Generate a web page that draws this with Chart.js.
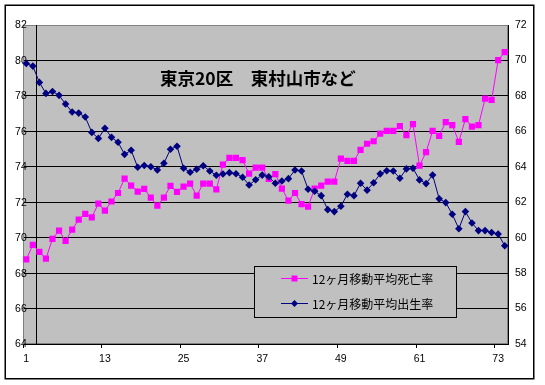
<!DOCTYPE html>
<html lang="ja">
<head>
<meta charset="utf-8">
<title>東京20区　東村山市など</title>
<script src="https://cdn.jsdelivr.net/npm/chart.js@4.4.1/dist/chart.umd.min.js"></script>
<style>
  html, body { margin: 0; padding: 0; background: #fff; }
  #wrap { position: relative; width: 545px; height: 385px; }
</style>
</head>
<body>
<div id="wrap"><canvas id="chart" width="545" height="385"></canvas></div>
<script>
// ---- data ----
const months = [
  1, 2, 3, 4, 5, 6, 7, 8, 9, 10, 11, 12, 13, 14, 15, 16, 17, 18, 19, 20,
  21, 22, 23, 24, 25, 26, 27, 28, 29, 30, 31, 32, 33, 34, 35, 36, 37, 38, 39, 40,
  41, 42, 43, 44, 45, 46, 47, 48, 49, 50, 51, 52, 53, 54, 55, 56, 57, 58, 59, 60,
  61, 62, 63, 64, 65, 66, 67, 68, 69, 70, 71, 72, 73, 74
];
const xTickLabels = ["1", "13", "25", "37", "49", "61", "73"];

// 12ヶ月移動平均死亡率 (left axis)
const deathRate = [
  68.77, 69.59, 69.20, 68.82, 69.93, 70.40, 69.82, 70.46, 71.02, 71.34,
  71.15, 71.92, 71.53, 72.04, 72.52, 73.33, 72.94, 72.60, 72.75, 72.26,
  71.81, 72.26, 72.92, 72.58, 72.88, 73.05, 72.37, 73.05, 73.05, 72.73,
  74.12, 74.50, 74.50, 74.38, 73.61, 73.95, 73.95, 73.31, 73.59, 72.77,
  72.09, 72.52, 71.89, 71.75, 72.77, 72.94, 73.16, 73.16, 74.46, 74.33,
  74.33, 74.96, 75.30, 75.44, 75.87, 76.02, 76.02, 76.30, 75.79, 76.41,
  74.06, 74.83, 76.02, 75.75, 76.52, 76.35, 75.41, 76.69, 76.26, 76.35,
  77.84, 77.78, 80.02, 80.47
];

// 12ヶ月移動平均出生率 (right axis)
const birthRate = [
  69.83, 69.68, 68.76, 68.14, 68.25, 68.03, 67.54, 67.09, 67.03, 66.81,
  65.94, 65.60, 66.17, 65.66, 65.38, 64.70, 64.93, 63.97, 64.07, 64.00,
  63.82, 64.20, 64.99, 65.16, 63.92, 63.69, 63.86, 64.06, 63.76, 63.52,
  63.59, 63.67, 63.61, 63.41, 62.97, 63.27, 63.53, 63.44, 63.07, 63.20,
  63.33, 63.82, 63.76, 62.73, 62.62, 62.37, 61.58, 61.47, 61.77, 62.45,
  62.37, 63.07, 62.68, 63.10, 63.60, 63.78, 63.76, 63.35, 63.88, 63.92,
  63.26, 63.05, 63.54, 62.19, 61.98, 61.32, 60.50, 61.47, 60.83, 60.40,
  60.40, 60.29, 60.21, 59.54
];

const seriesNames = ["12ヶ月移動平均死亡率", "12ヶ月移動平均出生率"];
const chartTitle = "東京20区　東村山市など";

const PINK = "#ff00ff";
const NAVY = "#000080";
const PLOT_BG = "#c0c0c0";
const tickFont = { family: "'Liberation Sans', Arial, sans-serif", size: 10.5 };

/* =========================
   EXCEL-STYLE DECORATION
========================== */
const excelFrame = {
  id: "excelFrame",
  beforeDraw(chart) {
    const { ctx, chartArea: a } = chart;
    ctx.save();
    ctx.fillStyle = "#fff";
    ctx.fillRect(0, 0, chart.width, chart.height);
    ctx.fillStyle = PLOT_BG;
    ctx.fillRect(a.left, a.top, a.right - a.left, a.bottom - a.top);
    ctx.strokeStyle = "#808080";
    ctx.lineWidth = 1;
    ctx.strokeRect(a.left + 0.5, a.top + 0.5, a.right - a.left - 1, a.bottom - a.top - 1);
    ctx.restore();
  },
  beforeDatasetsDraw(chart) {
    const { ctx, chartArea: a } = chart;
    ctx.save();

    // left value labels overlap the plot edge a little, as in Excel
    const ys = chart.scales.y;
    ctx.fillStyle = "#000";
    ctx.font = "10.5px 'Liberation Sans', Arial, sans-serif";
    ctx.textAlign = "right";
    ctx.textBaseline = "middle";
    ys.ticks.forEach(t => {
      ctx.fillText(String(t.value), a.left + 3.8, ys.getPixelForValue(t.value) + 0.5);
    });

    // value axis crosses between category 2 and 3
    const x = Math.round(chart.scales.x.getPixelForValue(1.5)) + 0.5;
    ctx.strokeStyle = "#000";
    ctx.lineWidth = 1;
    ctx.beginPath();
    ctx.moveTo(x, a.top);
    ctx.lineTo(x, a.bottom);
    ctx.stroke();
    ctx.restore();
  },
  afterDraw(chart) {
    const { ctx, chartArea: a } = chart;
    ctx.save();

    // title inside the plot
    ctx.fillStyle = "#000";
    ctx.font = "bold 17.5px 'Noto Sans CJK JP', sans-serif";
    ctx.textBaseline = "middle";
    ctx.textAlign = "left";
    ctx.fillText(chartTitle, a.left + 137, a.top + 53);

    // legend box
    const bx = a.left + 231, by = a.top + 241, bw = 202, bh = 51;
    ctx.fillStyle = PLOT_BG;
    ctx.fillRect(bx, by, bw, bh);
    ctx.strokeStyle = "#000";
    ctx.lineWidth = 1;
    ctx.strokeRect(bx + 0.5, by + 0.5, bw, bh);

    const items = [
      { text: seriesNames[0], color: PINK, shape: "square" },
      { text: seriesNames[1], color: NAVY, shape: "diamond" }
    ];
    items.forEach((it, i) => {
      const y = by + 12.5 + i * 25;
      ctx.strokeStyle = it.color;
      ctx.beginPath();
      ctx.moveTo(bx + 27, y);
      ctx.lineTo(bx + 54, y);
      ctx.stroke();
      ctx.fillStyle = it.color;
      const cx = bx + 40.5;
      if (it.shape === "square") {
        ctx.fillRect(cx - 3, y - 3, 6, 6);
      } else {
        ctx.beginPath();
        ctx.moveTo(cx, y - 3.5);
        ctx.lineTo(cx + 3.5, y);
        ctx.lineTo(cx, y + 3.5);
        ctx.lineTo(cx - 3.5, y);
        ctx.closePath();
        ctx.fill();
      }
      ctx.fillStyle = "#000";
      ctx.font = "12px 'Noto Sans CJK JP', sans-serif";
      ctx.fillText(it.text, bx + 58, y + 0.5);
    });

    // outer chart border
    ctx.strokeStyle = "#000";
    ctx.lineWidth = 1.5;
    ctx.strokeRect(5.25, 5.25, 528.5, 373.5);
    ctx.restore();
  }
};

/* =========================
   CHART
========================== */
const ctx = document.getElementById("chart").getContext("2d");

new Chart(ctx, {
  type: "line",
  data: {
    labels: months,
    datasets: [
      {
        label: seriesNames[0],
        data: deathRate,
        yAxisID: "y",
        order: 1,
        borderColor: PINK,
        backgroundColor: PINK,
        borderWidth: 1,
        pointStyle: "rect",
        pointRadius: 4.4,
        pointBorderWidth: 0,
        tension: 0,
        fill: false
      },
      {
        label: seriesNames[1],
        data: birthRate,
        yAxisID: "y1",
        order: 0,
        borderColor: NAVY,
        backgroundColor: NAVY,
        borderWidth: 1,
        pointStyle: "rectRot",
        pointRadius: 3.8,
        pointBorderWidth: 0,
        tension: 0,
        fill: false
      }
    ]
  },
  options: {
    responsive: false,
    animation: false,
    layout: { padding: { left: 0, right: 0, top: 25, bottom: 11 } },
    plugins: {
      legend: { display: false },
      tooltip: { enabled: false }
    },
    scales: {
      x: {
        type: "category",
        offset: true,
        afterFit: s => { s.height = 30; },
        grid: {
          offset: true,
          drawOnChartArea: false,
          drawTicks: true,
          tickLength: 4,
          tickColor: c => xTickLabels.includes(String(months[c.index])) ? "#000" : "rgba(0,0,0,0)"
        },
        border: { color: "#000", width: 1 },
        ticks: {
          autoSkip: false,
          maxRotation: 0,
          minRotation: 0,
          padding: 5,
          color: "#000",
          font: tickFont,
          callback: function (v, i) {
            const lab = String(months[i]);
            return xTickLabels.includes(lab) ? lab : "";
          }
        }
      },
      y: {
        position: "left",
        min: 64,
        max: 82,
        afterFit: s => { s.width = 23; },
        grid: {
          color: c => c.tick && c.tick.value === 82 ? "#808080" : "#000",
          lineWidth: 1,
          drawTicks: false
        },
        border: { color: "#808080" },
        ticks: { stepSize: 2, display: false }
      },
      y1: {
        position: "right",
        min: 54,
        max: 72,
        afterFit: s => { s.width = 37; },
        grid: { drawOnChartArea: false, drawTicks: false },
        border: { color: "#000" },
        ticks: { stepSize: 2, padding: 7, color: "#000", font: tickFont }
      }
    }
  },
  plugins: [excelFrame]
});
</script>
</body>
</html>
